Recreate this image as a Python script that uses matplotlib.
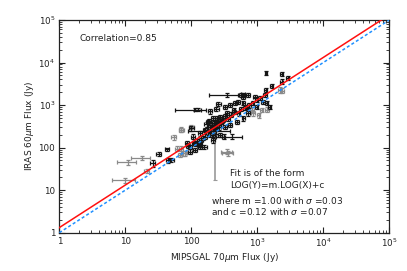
import matplotlib
matplotlib.use("Agg")
import matplotlib.pyplot as plt
import numpy as np

# MIPSGAL 70um vs IRAS 60um fluxes (Jy)
flux70 = [10, 11, 18, 26, 21, 32, 43, 44, 50, 54, 69, 100,
          1350, 2350, 2900, 2340, 2190, 2400, 1660, 1350,
          347, 575, 617, 724, 933, 1100, 1230, 1380, 1550, 1410, 1320,
          112, 126, 191, 240, 324, 389, 457, 513, 617, 692, 832, 977, 437,
          347, 275, 214, 182, 204, 170, 162, 135, 107, 100, 71,
          240, 407, 347, 214, 275, 324, 389, 490, 617, 724, 871, 1050, 1170,
          309, 229, 85, 95, 76, 68, 135, 158, 115, 191,
          71, 60, 79, 95, 135, 115, 363, 257, 977, 617,
          170, 190, 200, 220, 230, 250, 260, 180, 210, 240, 280, 300,
          150, 140, 120, 110, 90, 130,
          160, 185, 205, 225, 245, 265, 290, 320, 360, 400, 450, 520,
          560, 650, 760, 850]
flux60 = [17, 45, 57, 43, 28, 71, 91, 50, 51, 174, 263, 309,
          5750, 5400, 4300, 3550, 2290, 2200, 2820, 2290,
          1740, 1740, 1820, 1740, 1580, 1450, 1200, 1100, 910, 780, 1740,
          780, 780, 710, 830, 910, 1000, 1100, 1200, 1100, 910, 780, 910, 780,
          646, 537, 490, 407, 309, 263, 182, 219, 182, 282, 263,
          240, 182, 81, 151, 200, 309, 339, 407, 490, 646, 646, 589, 776,
          182, 230, 126, 105, 74, 68, 126, 105, 89, 200,
          95, 95, 74, 81, 105, 126, 74, 1070, 1320, 1580,
          350, 300, 250, 380, 330, 420, 300, 230, 200, 280, 350, 450,
          170, 150, 140, 130, 110, 115,
          260, 420, 330, 300, 500, 380, 420, 560, 480, 600, 700, 640,
          800, 850, 980, 1150]
err70 = [3.8, 3.5, 6, 2, 2, 3, 3, 3, 4, 4, 5, 8,
         60, 120, 150, 120, 100, 110, 80, 70,
         160, 40, 45, 50, 60, 70, 80, 90, 90, 80, 80,
         55, 15, 15, 20, 25, 30, 30, 35, 40, 45, 50, 60, 30,
         25, 20, 15, 15, 15, 12, 12, 10, 8, 8, 6,
         150, 170, 70, 15, 20, 25, 30, 35, 40, 45, 55, 60, 70,
         20, 10, 6, 7, 6, 5, 10, 12, 8, 15,
         5, 4, 6, 7, 10, 8, 70, 20, 60, 45,
         12, 14, 15, 16, 16, 18, 18, 14, 15, 18, 20, 20,
         11, 10, 9, 8, 7, 9,
         12, 14, 15, 16, 18, 20, 20, 22, 25, 28, 30, 35,
         40, 45, 50, 55]
err60 = [2.5, 5, 5, 8, 3, 8, 8, 7, 6, 20, 35, 30,
         700, 500, 450, 500, 400, 300, 300, 250,
         150, 150, 150, 150, 150, 150, 130, 120, 110, 100, 180,
         70, 70, 80, 90, 100, 110, 120, 130, 120, 110, 100, 110, 90,
         70, 60, 55, 50, 40, 35, 25, 30, 25, 35, 30,
         30, 25, 10, 20, 25, 40, 40, 50, 60, 80, 80, 80, 100,
         25, 30, 15, 12, 10, 8, 15, 12, 10, 25,
         12, 12, 9, 10, 12, 14, 9, 120, 150, 160,
         40, 35, 30, 45, 40, 50, 35, 28, 25, 35, 40, 55,
         20, 18, 16, 15, 13, 14,
         30, 50, 40, 35, 60, 45, 50, 65, 55, 70, 80, 75,
         90, 100, 110, 130]
grey = [1, 1, 1, 0, 1, 0, 0, 0, 0, 1, 1, 1,
        0, 0, 0, 0, 1, 1, 0, 0,
        0, 0, 0, 0, 0, 0, 0, 0, 0, 1, 0,
        0, 0, 0, 0, 0, 0, 0, 0, 0, 0, 1, 0, 0,
        0, 0, 0, 0, 0, 0, 0, 0, 0, 0, 1,
        0, 0, 1, 0, 0, 0, 0, 0, 0, 0, 1, 1, 1,
        0, 1, 0, 0, 1, 1, 0, 0, 0, 0,
        1, 1, 1, 0, 0, 0, 1, 0, 0, 0,
        0, 0, 0, 0, 0, 0, 0, 0, 0, 0, 0, 0,
        0, 0, 0, 0, 0, 0,
        0, 0, 0, 0, 0, 0, 0, 0, 0, 0, 0, 0,
        0, 0, 0, 0]

# the one source with a very long (asymmetric) IRAS error bar
odd_x = 229
odd_lo, odd_hi = 17, 400

fit_m, fit_c = 1.00, 0.12
sig_m, sig_c = 0.03, 0.07
correlation = 0.85

tick_vals = [1, 10, 100, 1e3, 1e4, 1e5]
tick_labels = ["1", "10", "100", r"10$^3$", r"10$^4$", r"10$^5$"]

fig = plt.figure(figsize=(4.07, 2.71), dpi=100)
ax = fig.add_axes([0.1457, 0.1413, 0.8108, 0.7849])
ax.set_xscale("log")
ax.set_yscale("log")
ax.set_xlim(1, 1e5)
ax.set_ylim(1, 1e5)

x = np.array(flux70, dtype=float)
y = np.array(flux60, dtype=float)
ex = np.array(err70, dtype=float)
ey = np.array(err60, dtype=float)
g = np.array(grey, dtype=bool)

ax.vlines(odd_x, odd_lo, odd_hi, color="#999999", linewidth=1.2, zorder=2)
ax.hlines([odd_lo, odd_hi], odd_x * 0.94, odd_x * 1.06, color="#999999",
          linewidth=0.8, zorder=2)

for mask, col in [(g, "#8a8a8a"), (~g, "#151515")]:
    ax.errorbar(x[mask], y[mask], xerr=ex[mask], yerr=ey[mask], fmt="none",
                ecolor=col, elinewidth=0.9, capsize=1.3, capthick=0.9,
                zorder=3)

xx = np.array([1, 1e5])
ax.plot(xx, 10 ** fit_c * xx ** fit_m, color="#ff1010", linewidth=1.1, zorder=4)
ax.plot(xx, xx, color="#2090ff", linewidth=1.1, linestyle=(0, (2, 1.5)),
        zorder=4)

fs = 6.5
ax.set_xticks(tick_vals)
ax.set_xticklabels(tick_labels)
ax.set_yticks(tick_vals)
ax.set_yticklabels(tick_labels)
ax.tick_params(which="both", direction="in", top=True, right=True,
               labelsize=fs - 0.2, colors="#222222", pad=3)
ax.tick_params(which="major", length=4, width=0.8)
ax.tick_params(which="minor", length=2, width=0.6)
for sp in ax.spines.values():
    sp.set_linewidth(0.9)
    sp.set_color("#222222")

ax.set_xlabel(r"MIPSGAL 70$\mu$m Flux (Jy)", fontsize=fs, labelpad=1,
              color="#222222")
ax.set_ylabel(r"IRAS 60$\mu$m Flux (Jy)", fontsize=fs, labelpad=2,
              color="#222222")

ax.text(2.0, 3.7e4, f"Correlation={correlation:.2f}", fontsize=fs,
        va="center", color="#222222")
ax.text(390, 24, "Fit is of the form", fontsize=fs, va="center",
        color="#222222")
ax.text(390, 13.2, "LOG(Y)=m.LOG(X)+c", fontsize=fs, va="center",
        color="#222222")
ax.text(200, 5.6, rf"where m ={fit_m:.2f} with $\sigma$ ={sig_m:.2f}",
        fontsize=fs, va="center", color="#222222")
ax.text(200, 3.2, rf"and c ={fit_c:.2f} with $\sigma$ ={sig_c:.2f}",
        fontsize=fs, va="center", color="#222222")

fig.savefig("out.png", dpi=100)
